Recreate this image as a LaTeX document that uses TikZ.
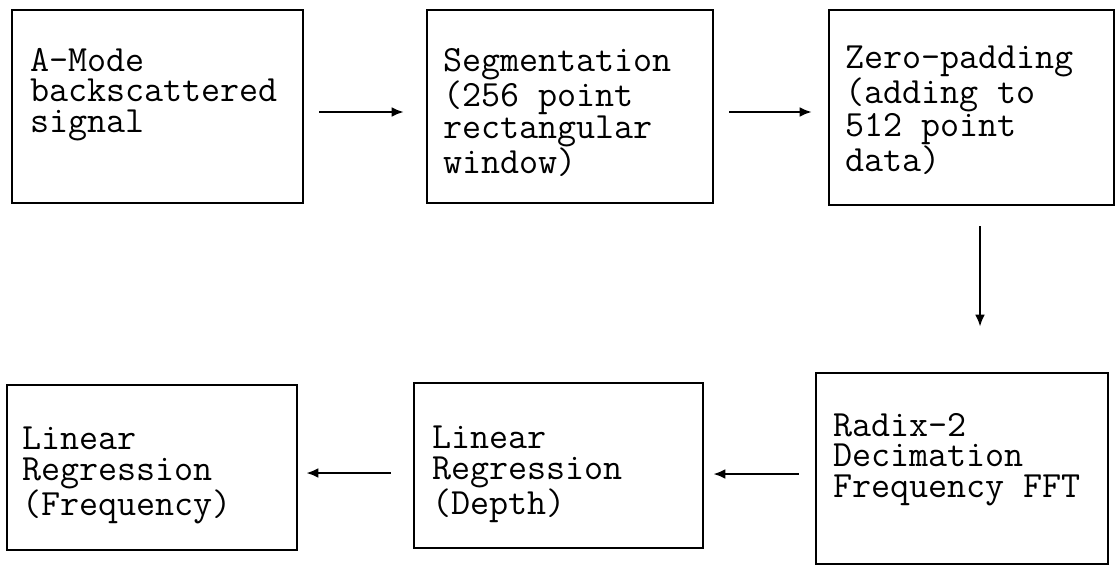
\documentclass[tikz,border=0pt]{standalone}
\usepackage{fontspec}
\usetikzlibrary{arrows.meta}

\begin{document}
\begin{tikzpicture}[x=1pt,y=1pt,line width=2.6pt]
\tikzstyle{block}=[draw, rectangle, inner sep=0pt]
\tikzstyle{txt}=[anchor=north west, align=left, inner sep=0pt,
    font=\ttfamily\fontsize{37}{30.5}\selectfont,
    execute at begin node={\rule{0pt}{24pt}}]
\tikzstyle{flow}=[-{Latex[length=12pt,width=10pt]}, line width=2.4pt]

\useasboundingbox (0,0) rectangle (1116,566);

% top row
\node[block, minimum width=291pt, minimum height=193pt] (amode) at (157.5,459.5) {};
\node[block, minimum width=286pt, minimum height=193pt] (seg)   at (570,459.5) {};
\node[block, minimum width=285pt, minimum height=195pt] (zpad)  at (971.5,458.5) {};

% bottom row
\node[block, minimum width=292pt, minimum height=191pt] (fft)   at (962,97.5) {};
\node[block, minimum width=289pt, minimum height=165pt] (lrdep) at (558.5,100.5) {};
\node[block, minimum width=290pt, minimum height=165pt] (lrfrq) at (152,98.5) {};

\node[txt] (amode-t) at ([shift={(18,-38)}]amode.north west)
    {A-Mode\\backscattered\\signal};
\node[txt] (seg-t) at ([shift={(16,-38)}]seg.north west)
    {Segmentation\\(256 point\\rectangular\\window)};
\node[txt] (zpad-t) at ([shift={(16,-36)}]zpad.north west)
    {Zero-padding\\(adding to\\512 point\\data)};
\node[txt] (fft-t) at ([shift={(17,-40)}]fft.north west)
    {Radix-2\\Decimation\\Frequency FFT};
\node[txt] (lrdep-t) at ([shift={(18,-43)}]lrdep.north west)
    {Linear\\Regression\\(Depth)};
\node[txt] (lrfrq-t) at ([shift={(15,-42)}]lrfrq.north west)
    {Linear\\Regression\\(Frequency)};

\draw[flow] ([shift={(15,-5.5)}]amode.east) -- ([shift={(-22,-5.5)}]seg.west);
\draw[flow] ([shift={(15,-5.5)}]seg.east) -- ([shift={(-16,-4.5)}]zpad.west);
\draw[flow] ([shift={(8.5,-20)}]zpad.south) -- ([shift={(18,45)}]fft.north);
\draw[flow] ([shift={(-16,-5.5)}]fft.west) -- ([shift={(9,-8.5)}]lrdep.east);
\draw[flow] ([shift={(-22,-7.5)}]lrdep.west) -- ([shift={(8,-5.5)}]lrfrq.east);
\end{tikzpicture}
\end{document}
